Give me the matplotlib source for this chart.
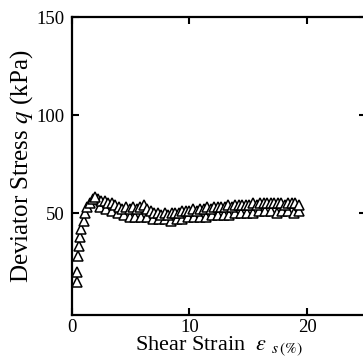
import numpy as np
import matplotlib
matplotlib.use('Agg')
import matplotlib.pyplot as plt

plt.rcParams['font.family'] = ['Liberation Serif', 'DejaVu Serif']
plt.rcParams['mathtext.fontset'] = 'stix'

# initial loading branch
x_start = [0.4, 0.4, 0.5, 0.6, 0.7, 0.8, 1.0, 1.1, 1.3, 1.5, 1.8, 2.0]
y_start = [15, 20, 28, 33, 38, 42, 46, 50, 53, 55, 57, 58]

# upper band of triangles
x_upper = [2.2, 2.5, 2.8, 3.1, 3.4, 3.7, 4.0, 4.3, 4.6, 4.9, 5.2, 5.5, 5.8,
           6.1, 6.4, 6.7, 7.0, 7.3, 7.6, 7.9, 8.2, 8.5, 8.8, 9.1, 9.4, 9.7,
           10.0, 10.3, 10.6, 10.9, 11.2, 11.5, 11.8, 12.1, 12.4, 12.7, 13.0,
           13.3, 13.6, 13.9, 14.2, 14.5, 14.8, 15.1, 15.4, 15.7, 16.0, 16.3,
           16.6, 16.9, 17.2, 17.5, 17.8, 18.1, 18.4, 18.7, 19.0, 19.3]
y_upper = [57, 56, 56, 55, 55, 54, 53, 52, 53, 52, 53, 52, 53,
           54, 52, 51, 50, 50, 49, 50, 49, 50, 50, 50, 51, 51,
           51, 52, 51, 52, 52, 53, 52, 53, 53, 53, 53,
           54, 53, 54, 54, 54, 54, 54, 55, 54, 55, 55,
           55, 55, 55, 55, 55, 54, 55, 55, 55, 54]

# lower band of triangles
x_lower = [2.4, 2.9, 3.4, 3.9, 4.4, 4.9, 5.4, 5.9, 6.4, 6.9, 7.4, 7.9,
           8.4, 8.9, 9.4, 9.9, 10.4, 10.9, 11.4, 11.9, 12.4, 12.9, 13.4,
           13.9, 14.4, 14.9, 15.4, 15.9, 16.4, 16.9, 17.4, 17.9, 18.4,
           18.9, 19.3]
y_lower = [53, 52, 51, 50, 49, 48, 48, 48, 48, 47, 47, 47,
           46, 47, 47, 48, 48, 48, 48, 49, 49, 49, 49,
           50, 50, 50, 50, 51, 51, 51, 50, 51, 51,
           50, 51]

fig = plt.figure(figsize=(3.63, 3.63), dpi=100)
ax = fig.add_axes([0.198, 0.132, 0.81, 0.821])

mk = dict(marker='^', linestyle='none', markersize=7, markerfacecolor='white',
          markeredgecolor='black', markeredgewidth=1.1)
ax.plot(x_lower, y_lower, **mk)
ax.plot(x_upper, y_upper, **mk)
ax.plot(x_start, y_start, **mk)

ax.set_xlim(0, 25)
ax.set_ylim(-2, 150)
ax.set_xticks([0, 10, 20])
ax.set_yticks([50, 100, 150])
ax.tick_params(direction='in', length=5, width=1.5, labelsize=13.5,
               top=True, right=True)
ax.tick_params(axis='x', pad=3)
ax.tick_params(axis='y', pad=5)
for s in ax.spines.values():
    s.set_linewidth(1.6)

ax.set_xlabel(r'Shear Strain  $\varepsilon$ $_{s\,(\%)}$', fontsize=16, labelpad=-1)
ax.set_ylabel(r'Deviator Stress $q$ (kPa)', fontsize=18, labelpad=1)

fig.savefig('out.png', dpi=100)
